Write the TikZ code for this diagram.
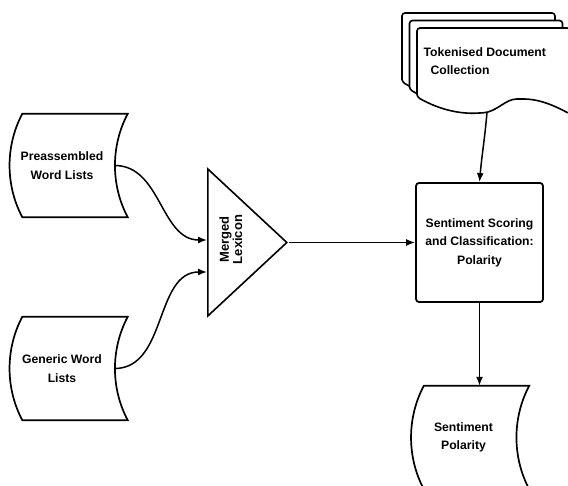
\documentclass[tikz,border=0pt]{standalone}
\usepackage{fontspec}
\setmainfont{Liberation Sans}
\usetikzlibrary{shapes.geometric,arrows.meta}
\tikzstyle{store} = [minimum width=105pt, minimum height=103pt,
    inner sep=0pt, align=center]
\tikzstyle{block} = [draw, rectangle, rounded corners=3pt, line width=1.8pt,
    minimum width=127pt, minimum height=119pt, align=center]
\tikzstyle{merge} = [draw, isosceles triangle, isosceles triangle stretches,
    minimum width=147pt, minimum height=79pt, inner sep=0pt, line width=1.6pt]
\tikzstyle{sheet} = [draw, fill=white, line width=1.6pt, rounded corners=3pt]
\tikzstyle{link} = [line width=1.5pt]

% outline of a stored data symbol round a store node
\newcommand{\storeoutline}[1]{%
  \draw [line width=1.7pt] ([xshift=13pt]#1.north west) -- ([xshift=13pt]#1.north east)
    .. controls +(-17pt,-32pt) and +(-17pt,32pt) .. ([xshift=13pt]#1.south east)
    -- ([xshift=13pt]#1.south west)
    .. controls +(-17pt,32pt) and +(-17pt,-32pt) .. ([xshift=13pt]#1.north west)
    -- cycle;}
% one sheet of the document stack
\newcommand{\docsheet}[1]{%
  \draw [sheet, shift={#1}] (417,389) -- (417,458) -- (570,458) -- (570,372)
    .. controls (555,380) and (540,387) .. (520,387)
    .. controls (505,387) and (497,374) .. (480,373)
    .. controls (460,372) and (440,376) .. (417,389) -- cycle;}

\begin{document}
\begin{tikzpicture}[x=1pt, y=1pt, >={Latex[length=9pt,width=7pt]},
    font=\bfseries\fontsize{12.2}{18.5}\selectfont]
    \useasboundingbox (0,0) rectangle (568,486);

    % Word list stores
    \node [store] (pre) at (62,320.5) {Preassembled\\Word Lists};
    \node [store, below of=pre, node distance=203pt] (gen) {Generic Word\\Lists};
    \storeoutline{pre}
    \storeoutline{gen}

    % Merged lexicon
    \node [merge, anchor=west] (lex) at (207,243.5)
        {\makebox[0pt]{\hspace*{-14pt}\smash{\rotatebox[origin=c]{90}{\fontsize{13}{13}\selectfont
         \begin{tabular}{@{}c@{}}Merged\\Lexicon\end{tabular}}}}};

    % Document stack
    \docsheet{(-15,15)}
    \docsheet{(-7.5,7.5)}
    \docsheet{(0,0)}
    \node [anchor=west, align=left] (tok) at (420,425)
        {Tokenised Document\\\hspace*{7pt}Collection};
    \coordinate (tokfoot) at (487,373.5);

    % Scoring block
    \node [block] (score) at (479.5,243.5)
        {Sentiment Scoring\\and Classification:\\Polarity};

    % Output store
    \node [store] (polar) at (463.5,48.5) {Sentiment\\Polarity};
    \storeoutline{polar}

    % Connectors
    \draw [link,->] (pre.east) to[out=0,in=180] ([yshift=2.5pt]lex.west);
    \draw [link,->] (gen.east) to[out=0,in=180] ([yshift=-29.5pt]lex.west);
    \draw [link,->] (lex.apex) -- (lex.apex -| score.west);
    \draw [link,->] (tokfoot) to[out=-95,in=85] (score.north);
    \draw [link,->] (score.south) -- (score.south |- polar.north);
\end{tikzpicture}
\end{document}
